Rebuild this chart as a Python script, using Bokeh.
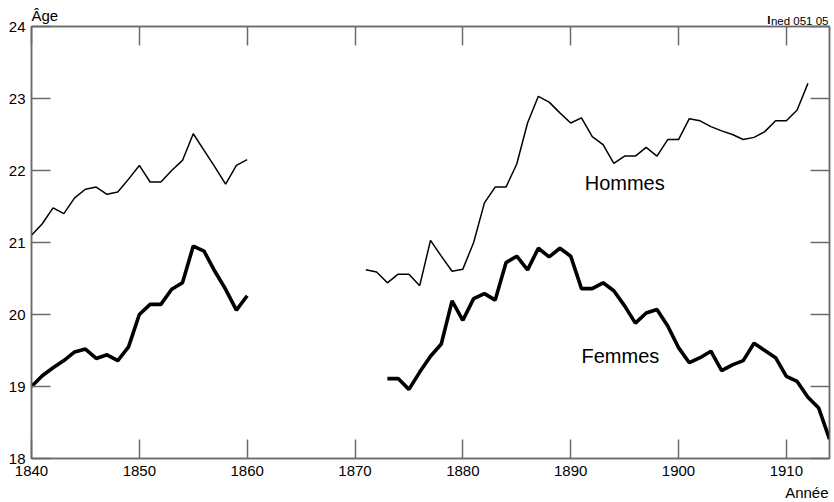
from bokeh.plotting import figure
from bokeh.models import LinearAxis, FixedTicker, Label, Range1d, Title
from bokeh.embed import file_html
from bokeh.resources import INLINE

# ---- data ----
x_ticks = [1840, 1850, 1860, 1870, 1880, 1890, 1900, 1910]
y_ticks = [18, 19, 20, 21, 22, 23, 24]

men_years_a = list(range(1840, 1861))
men_age_a = [21.10, 21.26, 21.48, 21.40, 21.62, 21.74, 21.77, 21.67, 21.70, 21.88,
             22.07, 21.84, 21.84, 22.00, 22.14, 22.51, 22.28, 22.05, 21.81, 22.07,
             22.15]

men_years_b = list(range(1871, 1913))
men_age_b = [20.62, 20.59, 20.44, 20.56, 20.56, 20.40, 21.03, 20.81, 20.60, 20.63,
             21.00, 21.55, 21.77, 21.77, 22.09, 22.66, 23.03, 22.95, 22.80, 22.66,
             22.73, 22.47, 22.36, 22.10, 22.20, 22.20, 22.32, 22.20, 22.43, 22.43,
             22.72, 22.69, 22.61, 22.55, 22.50, 22.43, 22.46, 22.54, 22.69, 22.69,
             22.84, 23.21]

women_years_a = list(range(1840, 1861))
women_age_a = [19.00, 19.15, 19.26, 19.36, 19.48, 19.52, 19.39, 19.44, 19.36, 19.55,
               20.00, 20.14, 20.14, 20.35, 20.44, 20.95, 20.88, 20.60, 20.35, 20.06,
               20.26]

women_years_b = list(range(1873, 1915))
women_age_b = [19.11, 19.11, 18.96, 19.20, 19.42, 19.59, 20.19, 19.92, 20.22, 20.29,
               20.20, 20.72, 20.81, 20.62, 20.92, 20.80, 20.92, 20.81, 20.36, 20.36,
               20.44, 20.33, 20.12, 19.88, 20.02, 20.07, 19.84, 19.54, 19.33, 19.40,
               19.49, 19.22, 19.30, 19.36, 19.60, 19.50, 19.40, 19.14, 19.07, 18.85,
               18.70, 18.27]

series_labels = ["Hommes", "Femmes"]

FONT = "Liberation Sans"
GRAY = "#6b6b6b"

p = figure(width=834, height=502,
           x_range=Range1d(1840, 1914), y_range=Range1d(18, 24),
           output_backend="svg", toolbar_location=None,
           min_border_left=31, min_border_right=5,
           min_border_top=26, min_border_bottom=44)

p.xgrid.visible = False
p.ygrid.visible = False
p.outline_line_color = GRAY
p.outline_line_width = 1.5
p.background_fill_color = "white"
p.border_fill_color = "white"


def style_axis(ax, ticks, show_labels, standoff):
    ax.ticker = FixedTicker(ticks=ticks)
    ax.major_tick_in = 19
    ax.major_tick_out = 0
    ax.minor_tick_line_color = None
    ax.axis_line_color = GRAY
    ax.axis_line_width = 1.5
    ax.major_tick_line_color = GRAY
    ax.major_tick_line_width = 1.5
    ax.major_label_standoff = standoff
    ax.major_label_text_font = FONT
    if show_labels:
        ax.major_label_text_font_size = "15px"
        ax.major_label_text_color = "black"
    else:
        ax.major_label_text_font_size = "1px"
        ax.major_label_text_color = None


style_axis(p.xaxis[0], x_ticks, True, 7)
style_axis(p.yaxis[0], y_ticks, True, 6)

top_ax = LinearAxis()
style_axis(top_ax, x_ticks, False, 0)
p.add_layout(top_ax, "above")

right_ax = LinearAxis()
style_axis(right_ax, y_ticks, False, 0)
p.add_layout(right_ax, "right")

# ---- lines ----
p.line(men_years_a, men_age_a, line_color="black", line_width=1.5)
p.line(men_years_b, men_age_b, line_color="black", line_width=1.5)
p.line(women_years_a, women_age_a, line_color="black", line_width=3.6)
p.line(women_years_b, women_age_b, line_color="black", line_width=3.6)

# ---- series labels inside the frame ----
p.add_layout(Label(x=1891.3, y=21.82, text=series_labels[0], text_align="left",
                   text_baseline="middle", text_font=FONT, text_font_size="20px",
                   text_color="black"))
p.add_layout(Label(x=1891.0, y=19.43, text=series_labels[1], text_align="left",
                   text_baseline="middle", text_font=FONT, text_font_size="20px",
                   text_color="black"))

# ---- texts outside the frame (titles in side panels) ----
H11 = 13.6  # approx size of the 11.5px title box (incl. 2px)
t_ined = Title(text="ned 051 05", align="right", offset=1, standoff=0,
               text_font=FONT, text_font_size="11.5px", text_font_style="normal",
               text_color="black")
t_i = Title(text="I", align="right", offset=59, standoff=-2 * H11,
            text_font=FONT, text_font_size="11.5px", text_font_style="bold",
            text_color="black")
t_age = Title(text="Âge", align="left", offset=0, standoff=-22,
              text_font=FONT, text_font_size="15px", text_font_style="normal",
              text_color="black")
p.add_layout(t_ined, "above")
p.add_layout(t_i, "above")
p.add_layout(t_age, "above")

t_annee = Title(text="Année", align="right", offset=1, standoff=-44,
                text_font=FONT, text_font_size="15px", text_font_style="normal",
                text_color="black")
p.add_layout(t_annee, "below")

open("out.html", "w").write(file_html(p, INLINE))
